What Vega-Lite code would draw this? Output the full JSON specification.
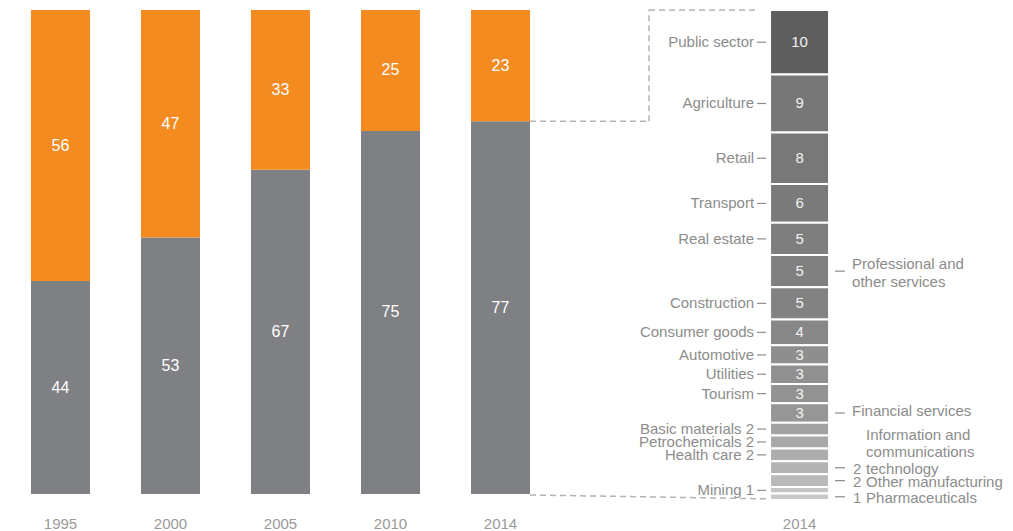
{
  "$schema": "https://vega.github.io/schema/vega-lite/v6.json",
  "width": 1013,
  "height": 490,
  "padding": {"top": 9, "left": 0, "right": 0, "bottom": 0},
  "background": "white",
  "config": {
    "view": {"stroke": null},
    "text": {"font": "Liberation Sans"},
    "axis": {"labelFont": "Liberation Sans"}
  },
  "datasets": {
    "shares": [
      {"year": "1995", "part": "Covered sectors", "share": 44},
      {"year": "1995", "part": "Other", "share": 56},
      {"year": "2000", "part": "Covered sectors", "share": 53},
      {"year": "2000", "part": "Other", "share": 47},
      {"year": "2005", "part": "Covered sectors", "share": 67},
      {"year": "2005", "part": "Other", "share": 33},
      {"year": "2010", "part": "Covered sectors", "share": 75},
      {"year": "2010", "part": "Other", "share": 25},
      {"year": "2014", "part": "Covered sectors", "share": 77},
      {"year": "2014", "part": "Other", "share": 23}
    ],
    "sectors": [
      {"sector": "Public sector", "value": 10, "rank": 1, "side": "L"},
      {"sector": "Agriculture", "value": 9, "rank": 2, "side": "L"},
      {"sector": "Retail", "value": 8, "rank": 3, "side": "L"},
      {"sector": "Transport", "value": 6, "rank": 4, "side": "L"},
      {"sector": "Real estate", "value": 5, "rank": 5, "side": "L"},
      {"sector": "Professional and\nother services", "value": 5, "rank": 6, "side": "R"},
      {"sector": "Construction", "value": 5, "rank": 7, "side": "L"},
      {"sector": "Consumer goods", "value": 4, "rank": 8, "side": "L"},
      {"sector": "Automotive", "value": 3, "rank": 9, "side": "L"},
      {"sector": "Utilities", "value": 3, "rank": 10, "side": "L"},
      {"sector": "Tourism", "value": 3, "rank": 11, "side": "L"},
      {"sector": "Financial services", "value": 3, "rank": 12, "side": "R"},
      {"sector": "Basic materials", "value": 2, "rank": 13, "side": "L"},
      {"sector": "Petrochemicals", "value": 2, "rank": 14, "side": "L"},
      {"sector": "Health care", "value": 2, "rank": 15, "side": "L"},
      {"sector": "Information and\ncommunications\ntechnology", "value": 2, "rank": 16, "side": "R"},
      {"sector": "Other manufacturing", "value": 2, "rank": 17, "side": "R"},
      {"sector": "Mining", "value": 1, "rank": 18, "side": "L"},
      {"sector": "Pharmaceuticals", "value": 1, "rank": 19, "side": "R"}
    ]
  },
  "resolve": {"scale": {"x": "independent", "y": "independent", "color": "independent"}},
  "layer": [
    {
      "layer": [
        {
          "data": {"name": "shares"},
          "transform": [
            {"stack": "share", "groupby": ["year"], "sort": [{"field": "part", "order": "ascending"}], "as": ["lo", "hi"]}
          ],
          "mark": {"type": "bar"},
          "encoding": {
            "x": {
              "field": "year", "type": "nominal",
              "scale": {"domain": ["1995", "2000", "2005", "2010", "2014", "s1", "s2", "s3", "s4"], "paddingInner": 0.4636, "paddingOuter": 0.336, "align": 0.419, "round": false},
              "axis": {"values": ["1995", "2000", "2005", "2010", "2014"], "title": null, "domain": false, "ticks": false, "labelPadding": 16, "labelFontSize": 15, "labelColor": "#9a9a9a", "labelAngle": 0, "orient": "bottom"}
            },
            "y": {"field": "lo", "type": "quantitative", "scale": {"domain": [-1.24, 100], "nice": false, "zero": false}, "axis": null},
            "y2": {"field": "hi"},
            "color": {"field": "part", "type": "nominal", "scale": {"domain": ["Covered sectors", "Other"], "range": ["#7f8083", "#f38b21"]}, "legend": null}
          }
        },
        {
          "data": {"name": "shares"},
          "transform": [
            {"stack": "share", "groupby": ["year"], "sort": [{"field": "part", "order": "ascending"}], "as": ["lo", "hi"]},
            {"calculate": "(datum.lo + datum.hi) / 2", "as": "mid"}
          ],
          "mark": {"type": "text", "fontSize": 16, "color": "#ffffff", "baseline": "middle"},
          "encoding": {
            "x": {"field": "year", "type": "nominal"},
            "y": {"field": "mid", "type": "quantitative"},
            "text": {"field": "share", "type": "quantitative"}
          }
        },
        {
          "data": {"values": [{}]},
          "mark": {"type": "rule", "strokeDash": [6, 4], "color": "#b3b3b3", "strokeWidth": 1.5},
          "encoding": {
            "x": {"datum": "2014", "type": "nominal", "bandPosition": 1},
            "x2": {"datum": "2014", "bandPosition": 3.017},
            "y": {"datum": 77, "type": "quantitative"}
          }
        },
        {
          "data": {"values": [{}]},
          "mark": {"type": "rule", "strokeDash": [6, 4], "color": "#b3b3b3", "strokeWidth": 1.5},
          "encoding": {
            "x": {"datum": "2014", "type": "nominal", "bandPosition": 3.017},
            "y": {"datum": 77, "type": "quantitative"},
            "y2": {"datum": 100}
          }
        },
        {
          "data": {"values": [{}]},
          "mark": {"type": "rule", "strokeDash": [6, 4], "color": "#b3b3b3", "strokeWidth": 1.5},
          "encoding": {
            "x": {"datum": "2014", "type": "nominal", "bandPosition": 3.017},
            "x2": {"datum": "2014", "bandPosition": 4.847},
            "y": {"datum": 100, "type": "quantitative"}
          }
        },
        {
          "data": {"values": [{}]},
          "mark": {"type": "rule", "strokeDash": [6, 4], "color": "#b3b3b3", "strokeWidth": 1.5},
          "encoding": {
            "x": {"datum": "2014", "type": "nominal", "bandPosition": 1},
            "x2": {"datum": "2014", "bandPosition": 5.017},
            "y": {"datum": -0.2, "type": "quantitative"},
            "y2": {"datum": -1.0}
          }
        }
      ]
    },
    {
      "layer": [
        {
          "data": {"name": "sectors"},
          "transform": [
            {"stack": "value", "groupby": [], "sort": [{"field": "rank", "order": "descending"}], "as": ["lo", "hi"]}
          ],
          "mark": {"type": "bar", "stroke": "white", "strokeWidth": 2},
          "encoding": {
            "x": {
              "datum": "2014", "type": "nominal",
              "scale": {"domain": ["t1", "t2", "t3", "t4", "t5", "t6", "t7", "2014", "t8"], "paddingInner": 0.4636, "paddingOuter": 0.336, "align": 0, "round": false},
              "axis": {"values": ["2014"], "title": null, "domain": false, "ticks": false, "labelPadding": 16, "labelFontSize": 15, "labelColor": "#9a9a9a", "labelAngle": 0, "orient": "bottom"}
            },
            "y": {"field": "lo", "type": "quantitative", "scale": {"domain": [0, 76], "nice": false, "zero": false}, "axis": null},
            "y2": {"field": "hi"},
            "color": {
              "field": "rank", "type": "ordinal",
              "scale": {
                "domain": [1, 2, 3, 4, 5, 6, 7, 8, 9, 10, 11, 12, 13, 14, 15, 16, 17, 18, 19],
                "range": ["#5e5e5e", "#777777", "#787878", "#7a7a7a", "#7e7e7e", "#808080", "#828282", "#878787", "#8e8e8e", "#909090", "#939393", "#969696", "#a2a2a2", "#a8a8a8", "#adadad", "#b3b3b3", "#b9b9b9", "#c4c4c4", "#c8c8c8"]
              },
              "legend": null
            }
          }
        },
        {
          "data": {"name": "sectors"},
          "transform": [
            {"stack": "value", "groupby": [], "sort": [{"field": "rank", "order": "descending"}], "as": ["lo", "hi"]},
            {"calculate": "(datum.lo + datum.hi) / 2", "as": "mid"},
            {"filter": "datum.value >= 3"}
          ],
          "mark": {"type": "text", "fontSize": 15, "color": "#f2f2f2", "baseline": "middle"},
          "encoding": {
            "x": {"datum": "2014", "type": "nominal"},
            "y": {"field": "mid", "type": "quantitative"},
            "text": {"field": "value", "type": "quantitative"}
          }
        },
        {
          "data": {"name": "sectors"},
          "transform": [
            {"stack": "value", "groupby": [], "sort": [{"field": "rank", "order": "descending"}], "as": ["lo", "hi"]},
            {"calculate": "(datum.lo + datum.hi) / 2", "as": "mid"},
            {"filter": "datum.side == 'L'"}
          ],
          "mark": {"type": "rule", "color": "#8c8c8c", "strokeWidth": 1.2},
          "encoding": {
            "x": {"datum": "2014", "type": "nominal", "bandPosition": -0.22},
            "x2": {"datum": "2014", "bandPosition": -0.068},
            "y": {"field": "mid", "type": "quantitative"}
          }
        },
        {
          "data": {"name": "sectors"},
          "transform": [
            {"stack": "value", "groupby": [], "sort": [{"field": "rank", "order": "descending"}], "as": ["lo", "hi"]},
            {"calculate": "(datum.lo + datum.hi) / 2", "as": "mid"},
            {"filter": "datum.side == 'R'"}
          ],
          "mark": {"type": "rule", "color": "#8c8c8c", "strokeWidth": 1.2},
          "encoding": {
            "x": {"datum": "2014", "type": "nominal", "bandPosition": 1.1},
            "x2": {"datum": "2014", "bandPosition": 1.27},
            "y": {"field": "mid", "type": "quantitative"}
          }
        },
        {
          "data": {"name": "sectors"},
          "transform": [
            {"stack": "value", "groupby": [], "sort": [{"field": "rank", "order": "descending"}], "as": ["lo", "hi"]},
            {"calculate": "(datum.lo + datum.hi) / 2", "as": "mid"},
            {"filter": "datum.side == 'L'"},
            {"calculate": "datum.value < 3 ? datum.sector + ' ' + datum.value : datum.sector", "as": "label"}
          ],
          "mark": {"type": "text", "fontSize": 15, "color": "#8c8c8c", "align": "right", "baseline": "middle"},
          "encoding": {
            "x": {"datum": "2014", "type": "nominal", "bandPosition": -0.27},
            "y": {"field": "mid", "type": "quantitative"},
            "text": {"field": "label", "type": "nominal"}
          }
        },
        {
          "data": {"name": "sectors"},
          "transform": [
            {"stack": "value", "groupby": [], "sort": [{"field": "rank", "order": "descending"}], "as": ["lo", "hi"]},
            {"calculate": "(datum.lo + datum.hi) / 2", "as": "mid"},
            {"filter": "datum.side == 'R' && datum.value >= 3 && datum.rank == 6"}
          ],
          "mark": {"type": "text", "fontSize": 15, "color": "#8c8c8c", "align": "left", "baseline": "middle", "lineBreak": "\n", "lineHeight": 18, "dy": -7},
          "encoding": {
            "x": {"datum": "2014", "type": "nominal", "bandPosition": 1.39},
            "y": {"field": "mid", "type": "quantitative"},
            "text": {"field": "sector", "type": "nominal"}
          }
        },
        {
          "data": {"name": "sectors"},
          "transform": [
            {"stack": "value", "groupby": [], "sort": [{"field": "rank", "order": "descending"}], "as": ["lo", "hi"]},
            {"calculate": "(datum.lo + datum.hi) / 2", "as": "mid"},
            {"filter": "datum.side == 'R' && datum.value >= 3 && datum.rank != 6"}
          ],
          "mark": {"type": "text", "fontSize": 15, "color": "#8c8c8c", "align": "left", "baseline": "middle", "dy": -2},
          "encoding": {
            "x": {"datum": "2014", "type": "nominal", "bandPosition": 1.39},
            "y": {"field": "mid", "type": "quantitative"},
            "text": {"field": "sector", "type": "nominal"}
          }
        },
        {
          "data": {"name": "sectors"},
          "transform": [
            {"stack": "value", "groupby": [], "sort": [{"field": "rank", "order": "descending"}], "as": ["lo", "hi"]},
            {"calculate": "(datum.lo + datum.hi) / 2", "as": "mid"},
            {"filter": "datum.side == 'R' && datum.value < 3"}
          ],
          "mark": {"type": "text", "fontSize": 15, "color": "#8c8c8c", "align": "left", "baseline": "middle", "dy": 1},
          "encoding": {
            "x": {"datum": "2014", "type": "nominal", "bandPosition": 1.407},
            "y": {"field": "mid", "type": "quantitative"},
            "text": {"field": "value", "type": "quantitative"}
          }
        },
        {
          "data": {"name": "sectors"},
          "transform": [
            {"stack": "value", "groupby": [], "sort": [{"field": "rank", "order": "descending"}], "as": ["lo", "hi"]},
            {"calculate": "(datum.lo + datum.hi) / 2", "as": "mid"},
            {"filter": "datum.side == 'R' && datum.value < 3 && datum.rank != 16"}
          ],
          "mark": {"type": "text", "fontSize": 15, "color": "#8c8c8c", "align": "left", "baseline": "middle", "dy": 1},
          "encoding": {
            "x": {"datum": "2014", "type": "nominal", "bandPosition": 1.627},
            "y": {"field": "mid", "type": "quantitative"},
            "text": {"field": "sector", "type": "nominal"}
          }
        },
        {
          "data": {"name": "sectors"},
          "transform": [
            {"stack": "value", "groupby": [], "sort": [{"field": "rank", "order": "descending"}], "as": ["lo", "hi"]},
            {"calculate": "(datum.lo + datum.hi) / 2", "as": "mid"},
            {"filter": "datum.rank == 16"}
          ],
          "mark": {"type": "text", "fontSize": 15, "color": "#8c8c8c", "align": "left", "baseline": "middle", "lineBreak": "\n", "lineHeight": 17, "dy": -33},
          "encoding": {
            "x": {"datum": "2014", "type": "nominal", "bandPosition": 1.627},
            "y": {"field": "mid", "type": "quantitative"},
            "text": {"field": "sector", "type": "nominal"}
          }
        }
      ]
    }
  ]
}
